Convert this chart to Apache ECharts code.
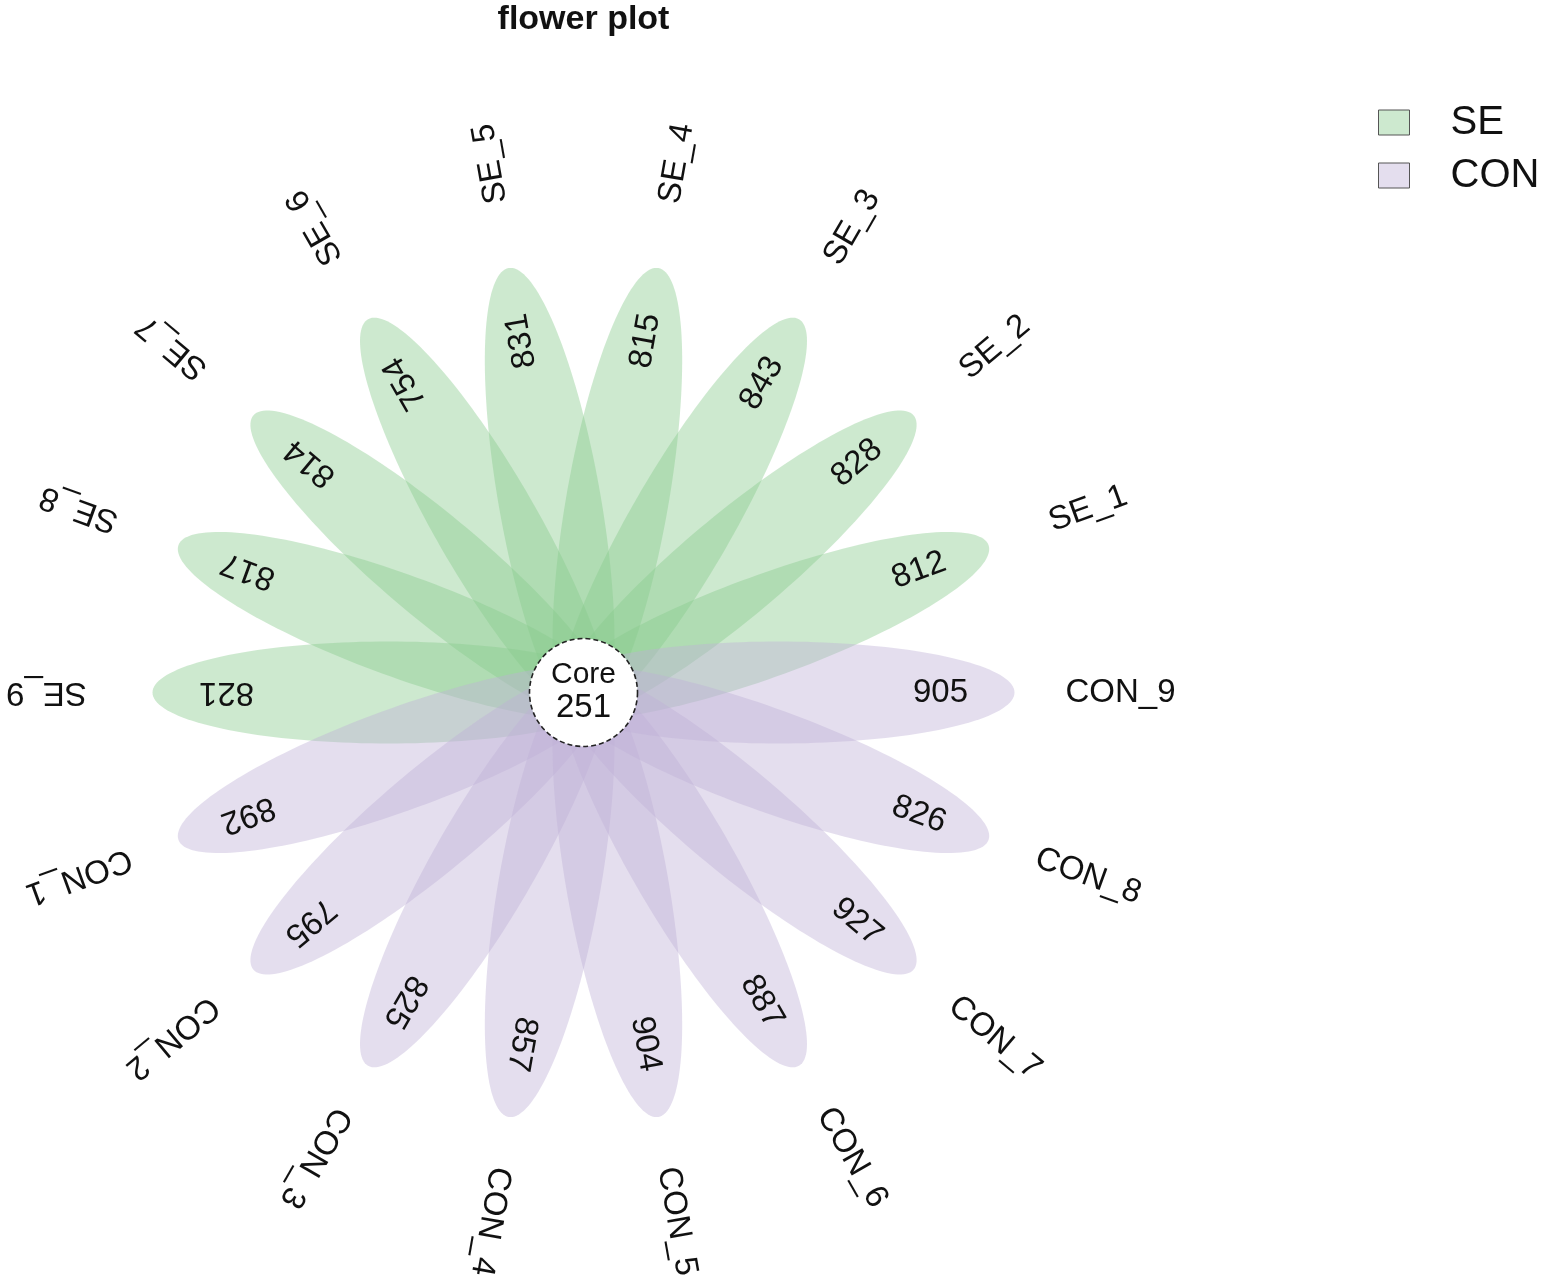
<!DOCTYPE html>
<html>
<head>
<meta charset="utf-8">
<script src="https://cdn.jsdelivr.net/npm/echarts@6/dist/echarts.min.js"></script>
<style>
html,body{margin:0;padding:0;background:#ffffff;}
#chart{width:1547px;height:1286px;}
</style>
</head>
<body>
<div id="chart"></div>
<script>
// ---- data ----
const seSamples = ['SE_1','SE_2','SE_3','SE_4','SE_5','SE_6','SE_7','SE_8','SE_9'];
const seValues = [812, 828, 843, 815, 831, 754, 814, 817, 821];
const conSamples = ['CON_1','CON_2','CON_3','CON_4','CON_5','CON_6','CON_7','CON_8','CON_9'];
const conValues = [892, 795, 825, 857, 904, 887, 927, 826, 905];
const groupNames = ['SE', 'CON'];
const coreLabel = 'Core';
const coreValue = 251;
const chartTitle = 'flower plot';

// ---- style / geometry ----
const groupColors = ['rgba(137,202,140,0.42)', 'rgba(190,177,215,0.42)'];
const STEP = 20;              // degrees between petals
const PETAL_CENTER = 195;     // distance of ellipse centre from core
const PETAL_A = 236;          // semi-major axis
const PETAL_B = 51;           // semi-minor axis
const VALUE_R = 357;
const LABEL_R = 537;
const CORE_R = 54;
const FONT = '"Liberation Sans", Arial, Helvetica, sans-serif';

const samplesByGroup = [seSamples, conSamples];
const valuesByGroup = [seValues, conValues];

function petalRenderer(g) {
  return function (params, api) {
    const i = params.dataIndex;
    const deg = STEP * (g * samplesByGroup[0].length + i + 1);
    const th = deg * Math.PI / 180;
    const c = Math.cos(th), s = Math.sin(th);
    const pts = [];
    const N = 160;
    for (let k = 0; k < N; k++) {
      const t = 2 * Math.PI * k / N;
      const u = PETAL_CENTER + PETAL_A * Math.cos(t);
      const v = PETAL_B * Math.sin(t);
      pts.push(api.coord([u * c - v * s, u * s + v * c]));
    }
    const vp = api.coord([VALUE_R * c, VALUE_R * s]);
    const lp = api.coord([LABEL_R * c, LABEL_R * s]);
    return {
      type: 'group',
      children: [
        { type: 'polygon', shape: { points: pts }, style: { fill: api.visual('color'), stroke: null } },
        { type: 'text', x: vp[0], y: vp[1], rotation: th, z2: 10,
          style: { text: String(valuesByGroup[g][i]), fill: '#111', font: '33px ' + FONT, align: 'center', verticalAlign: 'middle' } },
        { type: 'text', x: lp[0], y: lp[1], rotation: th, z2: 10,
          style: { text: samplesByGroup[g][i], fill: '#111', font: '33px ' + FONT, align: 'center', verticalAlign: 'middle' } }
      ]
    };
  };
}

function coreRenderer(params, api) {
  const p = api.coord([0, 0]);
  const r = api.size([CORE_R, 0])[0];
  const p1 = api.coord([0, 18]);
  const p2 = api.coord([0, -15]);
  return {
    type: 'group',
    children: [
      { type: 'circle', shape: { cx: p[0], cy: p[1], r: r },
        style: { fill: '#ffffff', stroke: '#222', lineWidth: 1.6, lineDash: [5, 3] } },
      { type: 'text', x: p1[0], y: p1[1], style: { text: coreLabel, fill: '#111', font: '30px ' + FONT, align: 'center', verticalAlign: 'middle' } },
      { type: 'text', x: p2[0], y: p2[1], style: { text: String(coreValue), fill: '#111', font: '33px ' + FONT, align: 'center', verticalAlign: 'middle' } }
    ]
  };
}

const chart = echarts.init(document.getElementById('chart'));
chart.setOption({
  animation: false,
  backgroundColor: '#ffffff',
  title: {
    text: chartTitle, left: 583.5, top: 3, textAlign: 'center', padding: 0,
    textStyle: { fontSize: 34, fontWeight: 'bold', fontFamily: FONT, color: '#111' }
  },
  legend: {
    orient: 'vertical', left: 1378, top: 102.5, padding: 0, itemWidth: 31, itemHeight: 25, itemGap: 13,
    icon: 'rect',
    data: groupNames.map(n => ({ name: n, itemStyle: { borderColor: '#555', borderWidth: 1 } })),
    textStyle: { fontSize: 40, fontFamily: FONT, color: '#111', lineHeight: 40, padding: [0, 0, 0, 36] }
  },
  grid: { left: 0, right: 0, top: 0, bottom: 0 },
  xAxis: { type: 'value', min: -583.5, max: 963.5, show: false },
  yAxis: { type: 'value', min: -593.5, max: 692.5, show: false },
  series: [
    { type: 'custom', name: groupNames[0], coordinateSystem: 'cartesian2d', clip: false,
      itemStyle: { color: groupColors[0] },
      data: seValues.map((v, i) => ({ name: seSamples[i], value: [0, v] })),
      renderItem: petalRenderer(0) },
    { type: 'custom', name: groupNames[1], coordinateSystem: 'cartesian2d', clip: false,
      itemStyle: { color: groupColors[1] },
      data: conValues.map((v, i) => ({ name: conSamples[i], value: [0, v] })),
      renderItem: petalRenderer(1) },
    { type: 'custom', name: 'core', coordinateSystem: 'cartesian2d', clip: false, z: 5,
      data: [[0, coreValue]],
      renderItem: coreRenderer }
  ]
});
</script>
</body>
</html>
